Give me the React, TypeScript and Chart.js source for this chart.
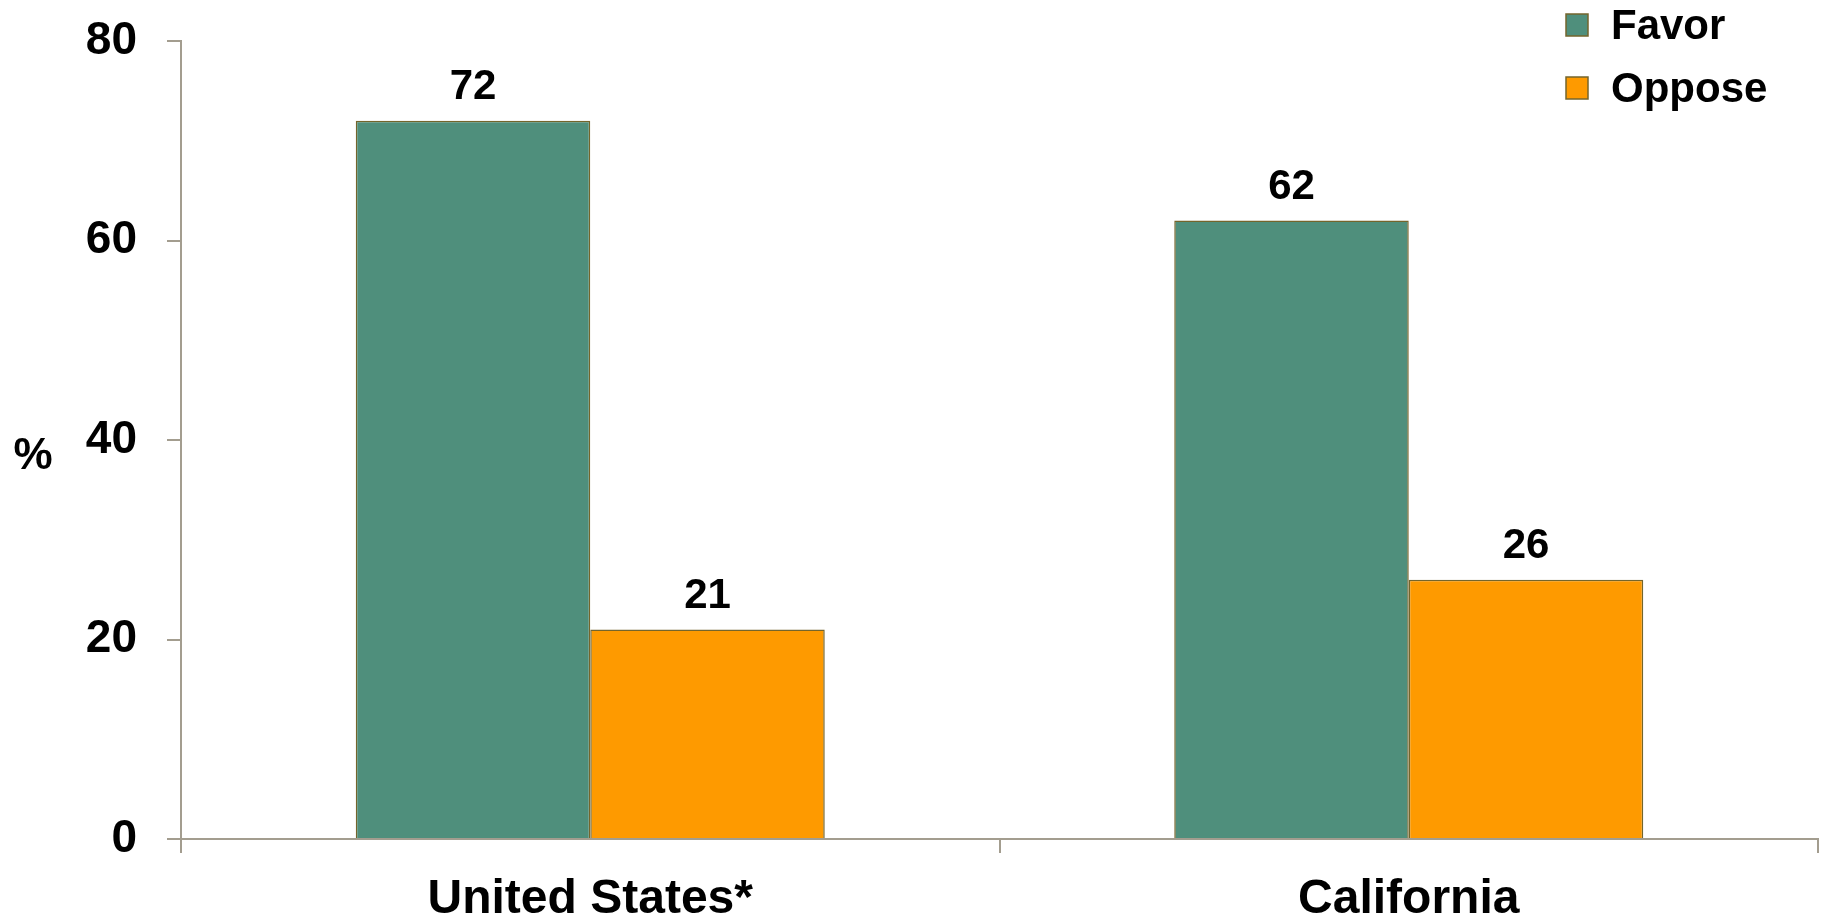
import React, { useEffect, useRef } from "react";
import { Chart, registerables } from "chart.js";

Chart.register(...registerables);

const categories = ["United States*", "California"];
const favorValues = [72, 62];
const opposeValues = [21, 26];
const seriesLabels = ["Favor", "Oppose"];
const yTicks = [0, 20, 40, 60, 80];
const yAxisTitle = "%";

const FONT = "'Liberation Sans', Arial, sans-serif";
const FAVOR_COLOR = "#4f8f7c";
const OPPOSE_COLOR = "#fe9a00";
const BAR_BORDER = "#74652c";
const AXIS_COLOR = "#a39d8f";

export default function App() {
  const canvasRef = useRef<HTMLCanvasElement | null>(null);

  useEffect(() => {
    document.body.style.margin = "0";
    const canvas = canvasRef.current;
    if (!canvas) return;

    const valueLabels = {
      id: "valueLabels",
      afterDatasetsDraw(chart: any) {
        const ctx = chart.ctx;
        ctx.save();
        ctx.font = `bold 42px ${FONT}`;
        ctx.fillStyle = "#000";
        ctx.textAlign = "center";
        ctx.textBaseline = "alphabetic";
        chart.data.datasets.forEach((ds: any, di: number) => {
          const meta = chart.getDatasetMeta(di);
          meta.data.forEach((el: any, i: number) => {
            ctx.fillText(String(ds.data[i]), el.x, el.y - 22);
          });
        });
        ctx.restore();
      },
    };

    const customLegend = {
      id: "customLegend",
      afterDraw(chart: any) {
        const ctx = chart.ctx;
        ctx.save();
        const rows = [25, 88];
        chart.data.datasets.forEach((ds: any, di: number) => {
          const cy = rows[di];
          ctx.fillStyle = ds.backgroundColor;
          ctx.fillRect(1566, cy - 11, 22, 22);
          ctx.strokeStyle = BAR_BORDER;
          ctx.lineWidth = 1.5;
          ctx.strokeRect(1566, cy - 11, 22, 22);
          ctx.fillStyle = "#000";
          ctx.font = `bold 42px ${FONT}`;
          ctx.textAlign = "left";
          ctx.textBaseline = "middle";
          ctx.fillText(ds.label, 1611, cy + 2);
        });
        // y axis title (horizontal)
        ctx.font = `bold 44px ${FONT}`;
        ctx.textAlign = "center";
        ctx.textBaseline = "middle";
        ctx.fillText(yAxisTitle, 33, 457);
        ctx.restore();
      },
    };

    const chart = new Chart(canvas, {
      type: "bar",
      data: {
        labels: categories,
        datasets: [
          {
            label: seriesLabels[0],
            data: favorValues,
            backgroundColor: FAVOR_COLOR,
            borderColor: BAR_BORDER,
            borderWidth: 1.5,
            barPercentage: 1,
            categoryPercentage: 0.573,
          },
          {
            label: seriesLabels[1],
            data: opposeValues,
            backgroundColor: OPPOSE_COLOR,
            borderColor: BAR_BORDER,
            borderWidth: 1.5,
            barPercentage: 1,
            categoryPercentage: 0.573,
          },
        ],
      },
      options: {
        animation: false,
        responsive: true,
        maintainAspectRatio: false,
        layout: { padding: { top: 41, right: 6, left: 0, bottom: 0 } },
        plugins: {
          legend: { display: false },
          tooltip: { enabled: false },
          title: { display: false },
        },
        scales: {
          x: {
            offset: true,
            grid: {
              offset: true,
              drawOnChartArea: false,
              drawTicks: true,
              tickLength: 14,
              color: AXIS_COLOR,
              lineWidth: 2,
            },
            border: { display: true, color: AXIS_COLOR, width: 2 },
            ticks: {
              color: "#000",
              font: { family: FONT, size: 48, weight: "bold" },
              padding: 18,
              maxRotation: 0,
            },
            afterFit(scale: any) {
              scale.height = 78;
              scale.paddingLeft = 0;
              scale.paddingRight = 0;
            },
          },
          y: {
            min: 0,
            max: 80,
            afterBuildTicks(scale: any) {
              scale.ticks = yTicks.map((v) => ({ value: v }));
            },
            grid: {
              drawOnChartArea: false,
              drawTicks: true,
              tickLength: 14,
              color: AXIS_COLOR,
              lineWidth: 2,
            },
            border: { display: true, color: AXIS_COLOR, width: 2 },
            ticks: {
              color: "#000",
              font: { family: FONT, size: 46, weight: "bold" },
              padding: 30,
            },
            afterFit(scale: any) {
              scale.width = 181;
              scale.paddingTop = 0;
              scale.paddingBottom = 0;
            },
          },
        },
      },
      plugins: [valueLabels, customLegend],
    });

    return () => chart.destroy();
  }, []);

  return (
    <div style={{ position: "absolute", left: 0, top: 0, width: 1824, height: 917 }}>
      <canvas ref={canvasRef} />
    </div>
  );
}
